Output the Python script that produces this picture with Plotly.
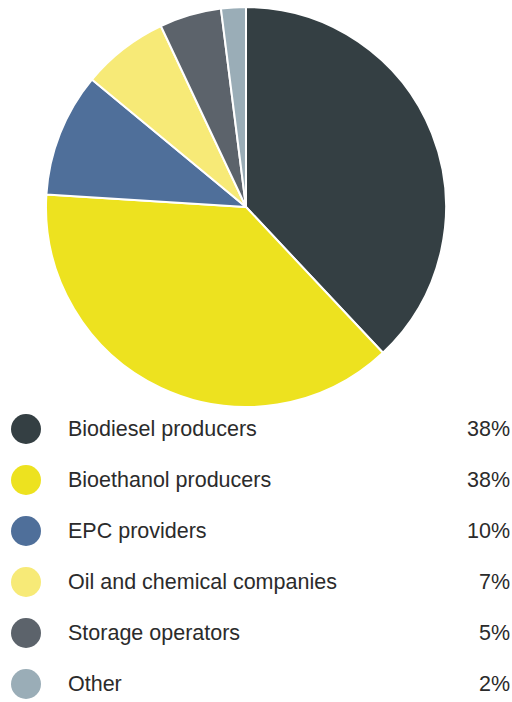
import plotly.graph_objects as go

labels = ["Biodiesel producers", "Bioethanol producers", "EPC providers",
          "Oil and chemical companies", "Storage operators", "Other"]
values = [38, 38, 10, 7, 5, 2]
colors = ["#343f43", "#ede21f", "#4f6f9a", "#f7ea77", "#5c636b", "#9aadb7"]

W, H = 512, 702

fig = go.Figure(go.Pie(
    labels=labels, values=values, sort=False, direction="clockwise", rotation=0,
    marker=dict(colors=colors, line=dict(color="white", width=2)),
    textinfo="none", hoverinfo="label+percent", showlegend=False,
    domain=dict(x=[46 / W, 446 / W], y=[(H - 407) / H, (H - 7) / H]),
))

row0, step = 429, 51
shapes, annots = [], []
for i, (lab, v, c) in enumerate(zip(labels, values, colors)):
    yc = row0 + i * step
    shapes.append(dict(type="circle", xref="paper", yref="paper",
                       x0=11 / W, x1=41 / W, y0=(H - yc - 15) / H, y1=(H - yc + 15) / H,
                       fillcolor=c, line=dict(width=0)))
    annots.append(dict(text=lab, x=66 / W, y=(H - yc) / H, xref="paper", yref="paper",
                       xanchor="left", yanchor="middle", showarrow=False,
                       font=dict(family="Liberation Sans", size=21.5, color="#2b2b2b")))
    annots.append(dict(text=f"{v}%", x=512 / W, y=(H - yc) / H, xref="paper", yref="paper",
                       xanchor="right", yanchor="middle", showarrow=False,
                       font=dict(family="Liberation Sans", size=21.5, color="#2b2b2b")))

fig.update_layout(width=W, height=H, margin=dict(l=0, r=0, t=0, b=0),
                  paper_bgcolor="white", plot_bgcolor="white",
                  shapes=shapes, annotations=annots)
fig.write_html("out.html")
